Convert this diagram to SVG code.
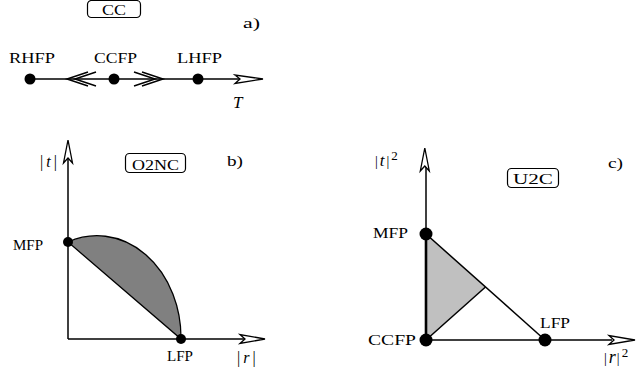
<svg xmlns="http://www.w3.org/2000/svg" width="639" height="379" viewBox="0 0 639 379">
<style>
text{font-family:"Liberation Serif","Times New Roman",serif;font-size:15.5px;fill:#000}
.it{font-style:italic}
.ln{stroke:#000;stroke-width:1.5;fill:none}
.ah{stroke:#000;stroke-width:1.3;fill:#fff;stroke-linejoin:miter}
.dot{fill:#000}
.box{fill:#fff;stroke:#000;stroke-width:1.2}
</style>
<rect width="639" height="379" fill="#fff"/>

<!-- Panel a -->
<g id="panel-a">
  <g id="a-label-box">
    <rect class="box" x="87.5" y="0.5" width="53" height="17" rx="4"/>
    <text x="114" y="15" text-anchor="middle" textLength="24" lengthAdjust="spacingAndGlyphs">CC</text>
  </g>
  <text id="a-tag" x="243" y="28" textLength="17" lengthAdjust="spacingAndGlyphs">a)</text>
  <g id="connectors-a">
    <line class="ln" x1="30" y1="79" x2="240" y2="79"/>
    <polyline class="ln" points="88,72 67,79 88,86"/>
    <polyline class="ln" points="96,72 75,79 96,86"/>
    <polyline class="ln" points="134,72 155,79 134,86"/>
    <polyline class="ln" points="142,72 163,79 142,86"/>
    <polygon class="ah" points="263,79 235,75 240,79 235,83.5"/>
  </g>
  <g id="RHFP"><circle class="dot" cx="30" cy="79" r="5.5"/><text x="9" y="63" textLength="46" lengthAdjust="spacingAndGlyphs">RHFP</text></g>
  <g id="CCFP-a"><circle class="dot" cx="114" cy="79" r="5.5"/><text x="94" y="63" textLength="43" lengthAdjust="spacingAndGlyphs">CCFP</text></g>
  <g id="LHFP"><circle class="dot" cx="198" cy="79" r="5.5"/><text x="177" y="63" textLength="45" lengthAdjust="spacingAndGlyphs">LHFP</text></g>
  <text id="T-label" class="it" x="233" y="108" style="font-size:17px">T</text>
</g>

<!-- Panel b -->
<g id="panel-b">
  <path id="b-region" d="M68,242 A84,102 0 0 1 181,339 Z" fill="#808080" stroke="#000" stroke-width="1.3"/>
  <g id="connectors-b">
    <line class="ln" x1="68" y1="339" x2="68" y2="158"/>
    <line class="ln" x1="68" y1="339" x2="247" y2="339"/>
    <polygon class="ah" points="68,140 63.5,163 68,158 72.5,163"/>
    <polygon class="ah" points="265,339 240,334.5 245,339 240,343.5"/>
  </g>
  <text id="t-axis-b" x="40" y="167" style="font-size:16px">|<tspan class="it" dx="3">t</tspan><tspan dx="3">|</tspan></text>
  <text id="r-axis-b" x="237" y="363" style="font-size:16px">|<tspan class="it" dx="3">r</tspan><tspan dx="3">|</tspan></text>
  <g id="b-label-box">
    <rect class="box" x="125.5" y="153.5" width="60" height="19" rx="4"/>
    <text x="155.5" y="169.5" text-anchor="middle" textLength="47" lengthAdjust="spacingAndGlyphs">O2NC</text>
  </g>
  <text id="b-tag" x="227" y="166" textLength="16" lengthAdjust="spacingAndGlyphs">b)</text>
  <g id="MFP-b"><circle class="dot" cx="68" cy="242" r="5"/><text x="13" y="250" textLength="30" lengthAdjust="spacingAndGlyphs">MFP</text></g>
  <g id="LFP-b"><circle class="dot" cx="181" cy="339" r="5"/><text x="167" y="361" textLength="26" lengthAdjust="spacingAndGlyphs">LFP</text></g>
</g>

<!-- Panel c -->
<g id="panel-c">
  <polygon id="c-region" points="426,234 485.5,287 426,340" fill="#c0c0c0"/>
  <g id="connectors-c">
    <line class="ln" x1="426" y1="340" x2="426" y2="166"/>
    <line x1="426" y1="234" x2="426" y2="340" stroke="#000" stroke-width="2.6"/>
    <line class="ln" x1="426" y1="340" x2="612" y2="340"/>
    <line class="ln" x1="426" y1="234" x2="545" y2="340"/>
    <line class="ln" x1="426" y1="340" x2="485.5" y2="287"/>
    <polygon class="ah" points="424.8,148 420.3,171 424.8,166 429.3,171"/>
    <polygon class="ah" points="635,340 609,335.5 614,340 609,344.5"/>
  </g>
  <text id="t-axis-c" x="375" y="166" style="font-size:14px">|<tspan class="it" dx="2" style="font-size:17px">t</tspan><tspan dx="2">|</tspan><tspan dx="2" dy="-6" style="font-size:13px">2</tspan></text>
  <text id="r-axis-c" x="604" y="363" style="font-size:14px">|<tspan class="it" dx="2" style="font-size:18px">r</tspan><tspan dx="1">|</tspan><tspan dx="2" dy="-6" style="font-size:13px">2</tspan></text>
  <g id="c-label-box">
    <rect class="box" x="507.5" y="168.5" width="51" height="19" rx="4"/>
    <text x="533" y="183.5" text-anchor="middle" textLength="40" lengthAdjust="spacingAndGlyphs">U2C</text>
  </g>
  <text id="c-tag" x="608" y="168" textLength="15" lengthAdjust="spacingAndGlyphs">c)</text>
  <g id="MFP-c"><circle class="dot" cx="426" cy="234" r="6.5"/><text x="373" y="238" textLength="35" lengthAdjust="spacingAndGlyphs">MFP</text></g>
  <g id="CCFP-c"><circle class="dot" cx="426" cy="340" r="6.5"/><text x="368" y="345" textLength="48" lengthAdjust="spacingAndGlyphs">CCFP</text></g>
  <g id="LFP-c"><circle class="dot" cx="545" cy="340" r="6.5"/><text x="540" y="328" textLength="30" lengthAdjust="spacingAndGlyphs">LFP</text></g>
</g>
</svg>
